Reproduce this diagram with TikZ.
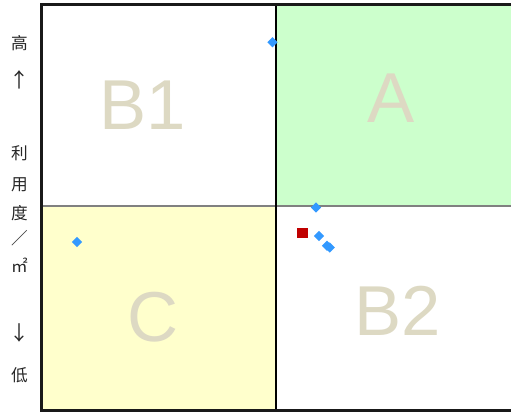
\documentclass[tikz,border=0pt]{standalone}
\usepackage{fontspec}
\setmainfont{Liberation Sans}
\newfontfamily\cjk{Noto Sans CJK SC}
\usetikzlibrary{shapes.geometric}
\definecolor{qgreen}{RGB}{204,255,204}
\definecolor{qyellow}{RGB}{255,255,204}
\definecolor{qlabel}{RGB}{221,217,195}
\definecolor{qblue}{RGB}{51,153,255}
\definecolor{qred}{RGB}{192,0,0}
\definecolor{qgray}{RGB}{128,128,128}
\tikzset{
  quadlabel/.style={text=qlabel, font=\fontsize{53}{60}\selectfont, inner sep=0pt, anchor=center},
  axislabel/.style={font=\cjk\fontsize{12.5}{13}\selectfont, inner sep=0pt, anchor=center, text=black!85},
  axisarrow/.style={axislabel, font=\cjk\fontsize{15}{16}\selectfont},
  bluept/.style={diamond, fill=qblue, draw=none, minimum width=7.8pt, minimum height=7.8pt, inner sep=0pt},
  redpt/.style={rectangle, fill=qred, draw=none, minimum width=8.2pt, minimum height=8.2pt, inner sep=0pt},
  frameline/.style={line width=1.9pt, black!90},
}
\begin{document}
\begin{tikzpicture}[x=0.75pt,y=-0.75pt]
\useasboundingbox (0,0) rectangle (511,413);
% quadrant fills
\fill[qgreen] (276,5) rectangle (511,206);
\fill[qyellow] (42,206) rectangle (276,410);
% dividers
\coordinate (hl) at (42,206);
\coordinate (hr) at (511,206);
\coordinate (vt) at (276,5);
\coordinate (vb) at (276,410);
\draw[qgray, line width=0.8pt] (hl) -- (hr);
\draw[black, line width=0.8pt] (vt) -- (vb);
% frame
\coordinate (ftr) at (511,4.5);
\coordinate (ftl) at (41.5,4.5);
\coordinate (fbl) at (41.5,410.5);
\coordinate (fbr) at (511,410.5);
\draw[frameline] (ftr) -- (ftl) -- (fbl) -- (fbr);
% quadrant labels
\node[quadlabel] (lB1) at (142.5,105.5) {B1};
\node[quadlabel] (lA) at (391,98.5) {A};
\node[quadlabel] (lC) at (153,317) {C};
\node[quadlabel] (lB2) at (398,311) {B2};
% data points
\node[bluept] (p1) at (272.5,42.3) {};
\node[bluept] (p2) at (316,207.5) {};
\node[bluept] (p3) at (319,236) {};
\node[bluept] (p4) at (327,245.8) {};
\node[bluept] (p5) at (329.8,247.5) {};
\node[bluept] (p6) at (77,242) {};
\node[redpt] (r1) at (302.5,233) {};
% axis text
\node[axislabel] (t1) at (19.5,43) {高};
\node[axisarrow] (t2) at (19.5,80) {↑};
\node[axislabel] (t3) at (19.5,153) {利};
\node[axislabel] (t4) at (19.5,185) {用};
\node[axislabel] (t5) at (19.5,213) {度};
\node[axislabel] (t6) at (19.5,238) {／};
\node[axislabel] (t7) at (19.5,265) {㎡};
\node[axisarrow] (t8) at (19.5,333) {↓};
\node[axislabel] (t9) at (19.5,375) {低};
\end{tikzpicture}
\end{document}
